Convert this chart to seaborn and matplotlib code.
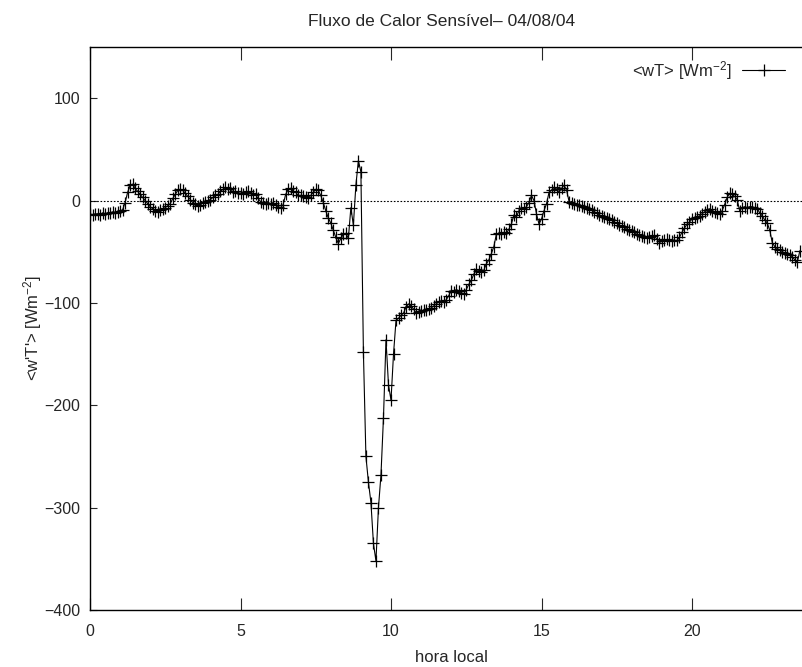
import numpy as np
import pandas as pd
import matplotlib
matplotlib.use("Agg")
import matplotlib.pyplot as plt
import seaborn as sns

# Sensible heat flux <w'T'> (W m^-2), 5-minute averages, one row per hour
flux_h00 = [-13, -14, -13, -13, -14, -12, -13, -12, -12, -11, -12, -11]
flux_h01 = [-10, -9, -2, 8, 15, 16, 12, 9, 6, 3, 0, -3]
flux_h02 = [-6, -8, -10, -11, -9, -8, -7, -5, -3, 2, 6, 10]
flux_h03 = [11, 10, 7, 4, 1, -2, -3, -5, -4, -2, -1, 0]
flux_h04 = [1, 3, 5, 6, 9, 11, 13, 11, 12, 8, 9, 7]
flux_h05 = [7, 6, 8, 9, 7, 5, 6, 2, -1, -2, -3, -2]
flux_h06 = [-3, -2, -4, -6, -7, -4, 6, 11, 12, 9, 8, 5]
flux_h07 = [5, 4, 3, 2, 5, 8, 11, 10, 5, -2, -10, -17]
flux_h08 = [-22, -29, -36, -42, -37, -33, -32, -37, -7, -24, 15, 39]
flux_h09 = [28, -148, -250, -275, -295, -335, -352, -300, -268, -212, -136, -180]
flux_h10 = [-195, -150, -117, -115, -112, -110, -104, -101, -103, -106, -110, -109]
flux_h11 = [-108, -107, -107, -106, -105, -103, -101, -99, -98, -99, -97, -93]
flux_h12 = [-88, -89, -87, -88, -90, -91, -87, -82, -78, -72, -67, -69]
flux_h13 = [-70, -68, -62, -58, -52, -45, -33, -32, -33, -31, -32, -28]
flux_h14 = [-23, -14, -16, -10, -7, -8, -6, -2, 5, 0, -13, -23]
flux_h15 = [-18, -10, -3, 8, 10, 13, 11, 8, 12, 15, 10, -1]
flux_h16 = [-2, -3, -4, -4, -5, -6, -7, -8, -9, -11, -12, -14]
flux_h17 = [-15, -16, -17, -18, -19, -21, -22, -24, -25, -26, -28, -29]
flux_h18 = [-30, -31, -33, -34, -35, -36, -37, -36, -35, -34, -38, -41]
flux_h19 = [-40, -39, -38, -39, -40, -39, -39, -36, -31, -27, -23, -21]
flux_h20 = [-18, -17, -16, -15, -13, -11, -9, -8, -10, -11, -12, -13]
flux_h21 = [-10, -4, 3, 7, 6, 4, 1, -10, -7, -6, -7, -6]
flux_h22 = [-6, -7, -8, -12, -15, -19, -22, -29, -41, -45, -47, -48]
flux_h23 = [-50, -51, -52, -53, -55, -58, -60, -49]

x_ticks = [0, 5, 10, 15, 20]
y_ticks = [-400, -300, -200, -100, 0, 100]

flux = (flux_h00 + flux_h01 + flux_h02 + flux_h03 + flux_h04 + flux_h05
        + flux_h06 + flux_h07 + flux_h08 + flux_h09 + flux_h10 + flux_h11
        + flux_h12 + flux_h13 + flux_h14 + flux_h15 + flux_h16 + flux_h17
        + flux_h18 + flux_h19 + flux_h20 + flux_h21 + flux_h22 + flux_h23)
hours = np.arange(len(flux)) / 12.0
df = pd.DataFrame({"hora": hours, "wT": flux})

sns.set_style("ticks")
plt.rcParams["font.family"] = ["Liberation Sans", "DejaVu Sans"]
plt.rcParams["mathtext.fontset"] = "custom"
plt.rcParams["mathtext.rm"] = "Liberation Sans"
plt.rcParams["mathtext.it"] = "Liberation Sans"

W, H = 803, 667
fig = plt.figure(figsize=(W / 100, H / 100), dpi=100)
# axes box: x from 0 h at px 90 (30.1 px per hour), y from 150 (px 47) to -400 (px 610)
ax = fig.add_axes([90 / W, (H - 610) / H, 24 * 30.1 / W, (610 - 47) / H])

sns.lineplot(data=df, x="hora", y="wT", ax=ax, color="black", linewidth=0.8,
             marker="+", markersize=9, markeredgewidth=0.9, markeredgecolor="black",
             label=r"<wT> [Wm$^{-2}$]")

ax.axhline(0, color="black", linewidth=0.8, linestyle=(0, (1.5, 1.5)), zorder=1)

ax.set_xlim(0, 24)
ax.set_ylim(-400, 150)
ax.set_xticks(x_ticks)
ax.set_yticks(y_ticks)
ax.tick_params(axis="x", direction="in", length=9, width=0.8, top=True,
               labelsize=11.5, pad=10)
ax.tick_params(axis="y", direction="in", length=5, width=0.8, right=True,
               labelsize=11.5, pad=7)
for s in ax.spines.values():
    s.set_linewidth(1.0)
    s.set_color("black")

ax.set_xlabel("hora local", fontsize=12, labelpad=8)
ax.set_ylabel(r"<w'T'> [Wm$^{-2}$]", fontsize=12, labelpad=0)
fig.text(442 / W, 1 - 22 / H, "Fluxo de Calor Sensível– 04/08/04",
         ha="center", va="center", fontsize=12.5)

leg = ax.legend(loc="upper right", bbox_to_anchor=((797 - 90) / (24 * 30.1), 1.0),
                frameon=False, markerfirst=False, handlelength=2.6, fontsize=12,
                borderaxespad=0.3, handletextpad=0.6)

fig.savefig("out.png", dpi=100, facecolor="white")
